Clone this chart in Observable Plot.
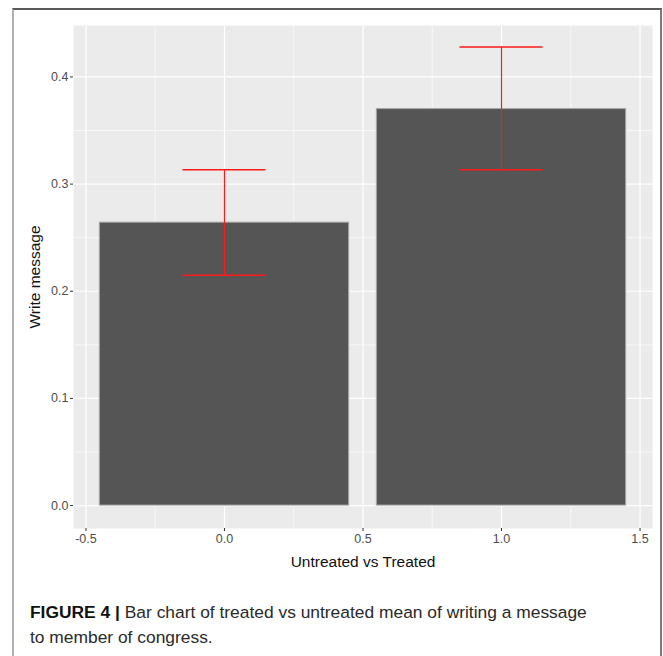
<!DOCTYPE html>
<html>
<head>
<meta charset="utf-8">
<script src="https://cdn.jsdelivr.net/npm/d3@7"></script>
<script src="https://cdn.jsdelivr.net/npm/@observablehq/plot@0.6"></script>
<style>
  html, body { margin: 0; padding: 0; background: #fff; }
  #wrap { position: relative; width: 663px; height: 656px; overflow: hidden; font-family: "Liberation Sans", Arial, sans-serif; }
  #frame { position: absolute; left: 12px; top: 8px; width: 646px; height: 660px; border-top: 2px solid #5a5a5a; border-left: 2px solid #b0b0b0; border-right: 2px solid #7a7a7a; }
  #chart { position: absolute; left: 0; top: 0; }
  #caption { position: absolute; left: 30px; top: 600px; font-family: "Liberation Sans", Arial, sans-serif; font-size: 17.4px; line-height: 25px; color: #2a2a2a; }
  #caption b { color: #111; }
</style>
</head>
<body>
<div id="wrap">
  <div id="frame"></div>
  <div id="chart"></div>
  <div id="caption"><b>FIGURE 4 |</b> Bar chart of treated vs untreated mean of writing a message<br>to member of congress.</div>
</div>
<script>
const groups = [0, 1];
const means = [0.264, 0.370];
const lowerCI = [0.215, 0.3135];
const upperCI = [0.3135, 0.428];
const xTicks = [-0.5, 0, 0.5, 1, 1.5];
const xMinor = [-0.25, 0.25, 0.75, 1.25];
const yTicks = [0, 0.1, 0.2, 0.3, 0.4];
const yMinor = [0.05, 0.15, 0.25, 0.35];
const xLabel = "Untreated vs Treated";
const yLabel = "Write message";

const data = groups.map((g, i) => ({g, mean: means[i], lo: lowerCI[i], hi: upperCI[i]}));
const fmt = d => d.toFixed(1);

const chart = Plot.plot({
  width: 663,
  height: 580,
  marginLeft: 73,
  marginRight: 11,
  marginTop: 25,
  marginBottom: 52,
  style: {fontFamily: "Liberation Sans, Arial, sans-serif", background: "transparent"},
  x: {domain: [-0.545, 1.545], axis: null},
  y: {domain: [-0.0214, 0.448], axis: null},
  marks: [
    Plot.frame({fill: "#EBEBEB", stroke: null}),
    Plot.ruleX(xMinor, {stroke: "#fff", strokeWidth: 0.6}),
    Plot.ruleY(yMinor, {stroke: "#fff", strokeWidth: 0.6}),
    Plot.ruleX(xTicks, {stroke: "#fff", strokeWidth: 1.2}),
    Plot.ruleY(yTicks, {stroke: "#fff", strokeWidth: 1.2}),
    Plot.rect(data, {x1: d => d.g - 0.45, x2: d => d.g + 0.45, y1: 0, y2: "mean", fill: "#555555", stroke: "#a6a6a6", strokeWidth: 1}),
    Plot.ruleX(data, {x: "g", y1: "lo", y2: "hi", stroke: "#ff1a1a", strokeWidth: 1.2}),
    Plot.ruleY(data, {y: "lo", x1: d => d.g - 0.15, x2: d => d.g + 0.15, stroke: "#ff1a1a", strokeWidth: 1.5}),
    Plot.ruleY(data, {y: "hi", x1: d => d.g - 0.15, x2: d => d.g + 0.15, stroke: "#ff1a1a", strokeWidth: 1.5}),
    Plot.axisX(xTicks, {anchor: "bottom", tickSize: 3, text: null, stroke: "#333", label: null}),
    Plot.axisY(yTicks, {anchor: "left", tickSize: 3, text: null, stroke: "#333", label: null}),
    Plot.text(xTicks, {x: d => d, frameAnchor: "bottom", lineAnchor: "top", dy: 6, text: fmt, fontSize: 12.5, fill: "#4d4d4d"}),
    Plot.text(yTicks, {y: d => d, frameAnchor: "left", textAnchor: "end", dx: -5, text: fmt, fontSize: 12.5, fill: "#4d4d4d"}),
    Plot.text([xLabel], {frameAnchor: "bottom", dy: 38, fontSize: 15.5, fill: "#111"}),
    Plot.text([yLabel], {frameAnchor: "left", dx: -38, rotate: -90, textAnchor: "middle", fontSize: 15.5, fill: "#111"})
  ]
});
document.getElementById("chart").appendChild(chart);
</script>
</body>
</html>
